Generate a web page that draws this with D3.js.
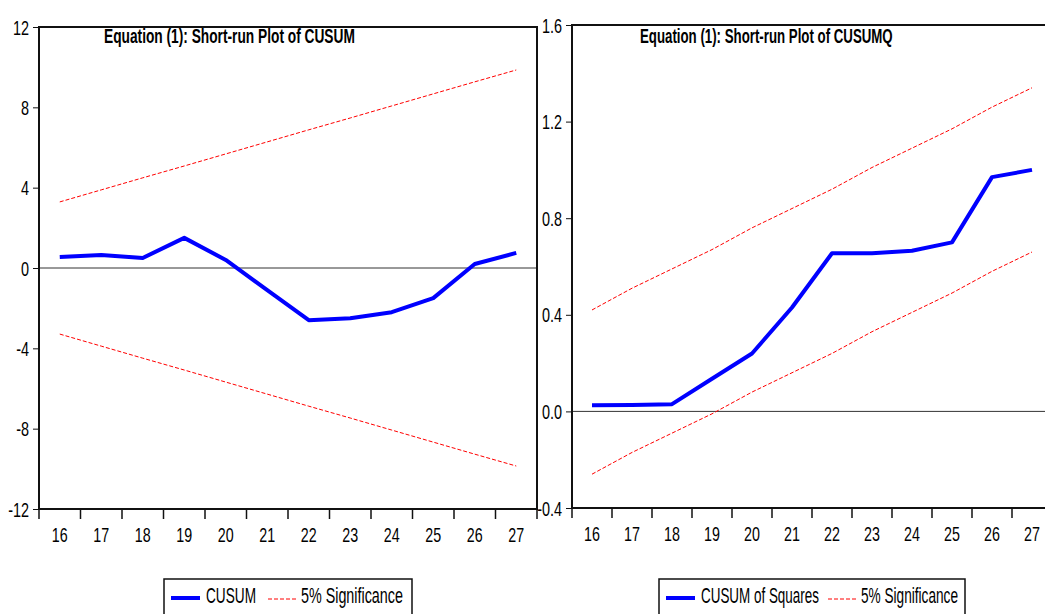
<!DOCTYPE html>
<html>
<head>
<meta charset="utf-8">
<script src="https://cdn.jsdelivr.net/npm/d3@7"></script>
<style>
  body { margin: 0; background: #fff; overflow: hidden; }
  svg text { font-family: "Liberation Sans Narrow", "Arial Narrow", "Liberation Sans", Arial, sans-serif; fill: #000; }
</style>
</head>
<body>
<script>
'use strict';

// periods on the x axis
const periods = ['16', '17', '18', '19', '20', '21', '22', '23', '24', '25', '26', '27'];

// CUSUM and its 5% bands
const cusum = [0.55, 0.65, 0.5, 1.5, 0.4, -1.1, -2.6, -2.5, -2.2, -1.5, 0.2, 0.75];
const cusumUpper = [3.29, 3.89, 4.49, 5.08, 5.68, 6.28, 6.88, 7.47, 8.07, 8.67, 9.27, 9.86];
const cusumLower = [-3.29, -3.89, -4.49, -5.08, -5.68, -6.28, -6.88, -7.47, -8.07, -8.67, -9.27, -9.86];
const cusumTicks = [-12, -8, -4, 0, 4, 8, 12];

// CUSUM of squares and its 5% bands
const cusumsq = [0.025, 0.027, 0.03, 0.135, 0.24, 0.43, 0.655, 0.655, 0.665, 0.70, 0.97, 1.0];
const cusumsqUpper = [0.42, 0.51, 0.59, 0.67, 0.76, 0.84, 0.92, 1.01, 1.09, 1.17, 1.26, 1.34];
const cusumsqLower = [-0.26, -0.17, -0.09, -0.01, 0.08, 0.16, 0.24, 0.33, 0.41, 0.49, 0.58, 0.66];
const cusumsqTicks = [-0.4, 0.0, 0.4, 0.8, 1.2, 1.6];

(function() {

  let svg = d3.select('body').append('svg')
    .attr('width', 1045)
    .attr('height', 614);

  drawPanel({
    left: 39, right: 537, top: 27, bottom: 509,
    ticks: cusumTicks, fmt: (d) => String(d),
    series: cusum, upper: cusumUpper, lower: cusumLower,
    title: 'Equation (1): Short-run Plot of CUSUM', titleX: 104, titleW: 251,
    legend: { x0: 164, x1: 412, name: 'CUSUM', nameW: 50, sigX: 268, sigW: 102 }
  });

  drawPanel({
    left: 572, right: 1052, top: 25, bottom: 508,
    ticks: cusumsqTicks, fmt: (d) => d.toFixed(1),
    series: cusumsq, upper: cusumsqUpper, lower: cusumsqLower,
    title: 'Equation (1): Short-run Plot of CUSUMQ', titleX: 640, titleW: 253,
    legend: { x0: 659, x1: 965, name: 'CUSUM of Squares', nameW: 118, sigX: 828, sigW: 97 }
  });

  // squeeze a text horizontally around its anchor point (no narrow font installed)
  function squeeze(sel, sx) {
    sel.each(function() {
      let t = d3.select(this);
      let tx = +t.attr('x') || 0;
      let ty = +t.attr('y') || 0;
      t.attr('x', 0).attr('y', 0)
        .attr('transform', `translate(${tx},${ty}) scale(${sx},1)`);
    });
  }

  // squeeze a text so it is exactly w pixels wide
  function fitWidth(sel, w) {
    let len = sel.node().getComputedTextLength();
    squeeze(sel, w / len);
  }

  function drawPanel(p) {
    let g = svg.append('g');

    let x = d3.scaleBand()
      .domain(periods)
      .range([p.left, p.right])
      .padding(0);

    let y = d3.scaleLinear()
      .domain([p.ticks[0], p.ticks[p.ticks.length - 1]])
      .range([p.bottom, p.top]);

    let cx = (d) => x(d) + x.bandwidth() / 2;

    // zero line
    g.append('line')
      .attr('x1', p.left).attr('x2', p.right)
      .attr('y1', y(0)).attr('y2', y(0))
      .attr('stroke', '#333').attr('stroke-width', 1);

    // y axis
    let yAxis = d3.axisLeft(y)
      .tickValues(p.ticks)
      .tickFormat(p.fmt)
      .tickSize(6)
      .tickPadding(4);
    let ya = g.append('g')
      .attr('transform', `translate(${p.left},0)`)
      .call(yAxis);
    ya.select('.domain').remove();
    ya.selectAll('line').attr('stroke', '#111');
    ya.selectAll('text')
      .attr('dy', null)
      .attr('y', 7)
      .style('font-size', '19.5px')
      .call(squeeze, 0.74);

    // x ticks at period boundaries, labels at centres
    let bounds = periods.map((d) => x(d)).concat([p.right]);
    g.selectAll('.xtick')
      .data(bounds)
      .enter()
      .append('line')
        .attr('x1', (d) => d).attr('x2', (d) => d)
        .attr('y1', p.bottom).attr('y2', p.bottom + 10)
        .attr('stroke', '#111').attr('stroke-width', 1.5);
    g.selectAll('.xlabel')
      .data(periods)
      .enter()
      .append('text')
        .attr('x', cx)
        .attr('y', p.bottom + 33)
        .attr('text-anchor', 'middle')
        .style('font-size', '21px')
        .text((d) => d)
        .call(squeeze, 0.68);

    // frame
    g.append('path')
      .attr('d', `M${p.left},${p.top}H${p.right}V${p.bottom}H${p.left}Z`)
      .attr('fill', 'none')
      .attr('stroke', '#111')
      .attr('stroke-width', 2);

    let line = d3.line()
      .x((d, i) => cx(periods[i]))
      .y((d) => y(d));

    // 5% bands
    [p.upper, p.lower].forEach((band) => {
      g.append('path')
        .datum(band)
        .attr('d', line)
        .attr('fill', 'none')
        .attr('stroke', '#ff0000')
        .attr('stroke-width', 1)
        .attr('stroke-dasharray', '4,2');
    });

    // statistic
    g.append('path')
      .datum(p.series)
      .attr('d', line)
      .attr('fill', 'none')
      .attr('stroke', '#0000ff')
      .attr('stroke-width', 4)
      .attr('stroke-linejoin', 'round');

    // title
    g.append('text')
      .attr('x', p.titleX)
      .attr('y', 43)
      .style('font-size', '21px')
      .style('font-weight', 'bold')
      .text(p.title)
      .call(fitWidth, p.titleW);

    // legend
    let L = p.legend;
    g.append('path')
      .attr('d', `M${L.x0},616V579H${L.x1}V616`)
      .attr('fill', 'none')
      .attr('stroke', '#111')
      .attr('stroke-width', 1.5);
    g.append('line')
      .attr('x1', L.x0 + 7).attr('x2', L.x0 + 36)
      .attr('y1', 598).attr('y2', 598)
      .attr('stroke', '#0000ff').attr('stroke-width', 4);
    g.append('text')
      .attr('x', L.x0 + 42)
      .attr('y', 603)
      .style('font-size', '22px')
      .text(L.name)
      .call(fitWidth, L.nameW);
    g.append('line')
      .attr('x1', L.sigX).attr('x2', L.sigX + 29)
      .attr('y1', 599).attr('y2', 599)
      .attr('stroke', '#ff0000').attr('stroke-width', 1)
      .attr('stroke-dasharray', '4,2');
    g.append('text')
      .attr('x', L.sigX + 33)
      .attr('y', 603)
      .style('font-size', '22px')
      .text('5% Significance')
      .call(fitWidth, L.sigW);
  }

})();
</script>
</body>
</html>
